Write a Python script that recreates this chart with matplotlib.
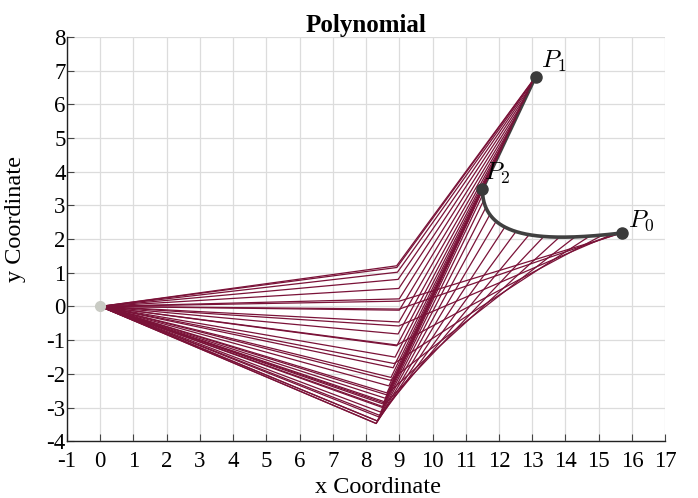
import numpy as np
import matplotlib
matplotlib.use("Agg")
import matplotlib.pyplot as plt

# ---- data ----
point_names = ["P_0", "P_1", "P_2"]
point_x = [15.7, 13.1, 11.5]
point_y = [2.18, 6.82, 3.48]
# inner control points of the curved P0 -> P2 segment
ctrl_x = [13.3, 11.5]
ctrl_y = [1.9, 2.0]
link_lengths = [9.0, 7.0]
samples_per_segment = 18
x_ticks = list(range(-1, 18))
y_ticks = list(range(-4, 9))

plt.rcParams["font.family"] = ["Liberation Serif", "DejaVu Serif"]
plt.rcParams["mathtext.fontset"] = "cm"

fig = plt.figure(figsize=(6.98, 4.98), dpi=100)
ax = fig.add_axes([0.096, 0.114, 0.857, 0.812])

P0 = np.array([point_x[0], point_y[0]])
P1 = np.array([point_x[1], point_y[1]])
P2 = np.array([point_x[2], point_y[2]])
C1 = np.array([ctrl_x[0], ctrl_y[0]])
C2 = np.array([ctrl_x[1], ctrl_y[1]])


def seg1(t):
    t = np.asarray(t)[:, None]
    return ((1 - t) ** 3) * P0 + 3 * t * (1 - t) ** 2 * C1 + 3 * t ** 2 * (1 - t) * C2 + t ** 3 * P2


def seg2(t):
    t = np.asarray(t)[:, None]
    return (1 - t) * P2 + t * P1


def scaling(n):
    u = np.linspace(0, 1, n)
    return 3 * u ** 2 - 2 * u ** 3


ends = np.vstack([seg1(scaling(samples_per_segment)), seg2(scaling(samples_per_segment))[1:]])

L1, L2 = link_lengths
red = "#7a1238"
for px, py in ends:
    d = np.hypot(px, py)
    c = np.clip((L1 ** 2 + d ** 2 - L2 ** 2) / (2 * L1 * d), -1, 1)
    th = np.arctan2(py, px) - np.arccos(c)
    ex, ey = L1 * np.cos(th), L1 * np.sin(th)
    ax.plot([0, ex, px], [0, ey, py], color=red, lw=0.9, zorder=2, solid_capstyle="round")

fine = np.linspace(0, 1, 200)
p1 = seg1(fine)
p2 = seg2(fine)
ax.plot(p1[:, 0], p1[:, 1], color="#404040", lw=2.6, zorder=3)
ax.plot(p2[:, 0], p2[:, 1], color="#404040", lw=2.6, zorder=1.5)

ax.plot([0], [0], "o", color="#c9cbc4", ms=7, zorder=4)
ax.plot(point_x, point_y, "o", color="#3a3a3a", ms=8, zorder=5)
offsets = [(4, 0), (4, 2), (1, 2)]
for name, x, y, off in zip(point_names, point_x, point_y, offsets):
    ax.annotate(f"${name}$", (x, y), xytext=off, textcoords="offset points",
                fontsize=18, ha="left", va="bottom", zorder=6)

ax.set_xlim(-1, 17)
ax.set_ylim(-4, 8)
ax.set_xticks(x_ticks)
ax.set_yticks(y_ticks)
ax.set_xticklabels([str(v) for v in x_ticks])
ax.set_yticklabels([str(v) for v in y_ticks])
ax.grid(True, color="#dcdcdc", lw=0.9)
ax.set_axisbelow(True)
for s in ["top", "right"]:
    ax.spines[s].set_visible(False)
for s in ["left", "bottom"]:
    ax.spines[s].set_color("#222222")
    ax.spines[s].set_linewidth(1.0)
ax.tick_params(direction="in", length=5, labelsize=16.5, color="#444444")
ax.tick_params(axis="x", pad=7)
ax.tick_params(axis="y", pad=1)
ax.set_xlabel("x Coordinate", fontsize=17.5)
ax.set_ylabel("y Coordinate", fontsize=17.5)
ax.xaxis.set_label_coords(0.52, -0.088)
ax.yaxis.set_label_coords(-0.068, 0.55)
ax.set_title("Polynomial", fontsize=18, fontweight="bold", pad=2)

fig.savefig("out.png", dpi=100)
